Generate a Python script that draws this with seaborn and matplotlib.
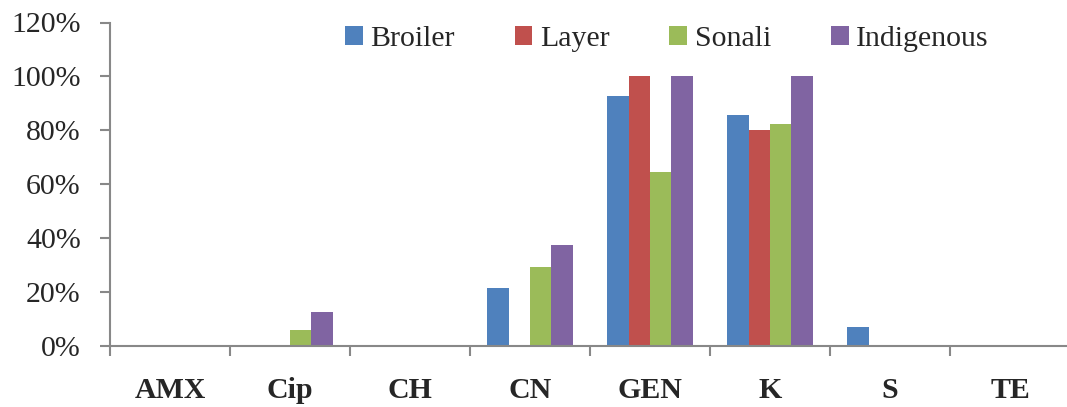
import matplotlib
matplotlib.use("Agg")
import matplotlib.pyplot as plt
import seaborn as sns
import pandas as pd
import numpy as np
from matplotlib.ticker import FixedLocator, FuncFormatter

categories = ["AMX", "Cip", "CH", "CN", "GEN", "K", "S", "TE"]
series_names = ["Broiler", "Layer", "Sonali", "Indigenous"]
broiler = [0, 0, 0, 21.4, 92.9, 85.7, 7.1, 0]
layer = [0, 0, 0, 0, 100, 80.0, 0, 0]
sonali = [0, 5.9, 0, 29.4, 64.7, 82.4, 0, 0]
indigenous = [0, 12.5, 0, 37.5, 100, 100, 0, 0]
colors = ["#4F81BD", "#C0504D", "#9BBB59", "#8064A2"]
yticks = [0, 20, 40, 60, 80, 100, 120]

rows = []
for name, vals in zip(series_names, [broiler, layer, sonali, indigenous]):
    for c, v in zip(categories, vals):
        rows.append({"Antibiotic": c, "Type": name, "Value": v})
df = pd.DataFrame(rows)

sns.set_style("white")
plt.rcParams["font.family"] = ["Liberation Serif", "DejaVu Serif"]

fig = plt.figure(figsize=(10.67, 4.07), dpi=100)
ax = fig.add_axes([110/1067, (407-346)/407, 960/1067, (346-22.5)/407])

sns.barplot(data=df, x="Antibiotic", y="Value", hue="Type", order=categories,
            hue_order=series_names, palette=colors, width=0.71, gap=0,
            saturation=1, linewidth=0, ax=ax)

ax.set_xlim(-0.5, len(categories) - 0.5)
ax.set_ylim(0, 120)
ax.set_yticks(yticks)
ax.yaxis.set_major_formatter(FuncFormatter(lambda v, p: f"{int(v)}%"))
ax.set_xlabel("")
ax.set_ylabel("")

ax.set_xticks(range(len(categories)))
ax.set_xticklabels(categories, fontsize=21.5, fontweight="bold")
ax.xaxis.set_minor_locator(FixedLocator(np.arange(-0.5, len(categories), 1.0)))
ax.tick_params(axis="x", which="both", bottom=True)
ax.tick_params(axis="x", which="major", length=0, pad=22)
ax.tick_params(axis="x", which="minor", length=7, width=1.5, color="#888888", direction="out")
ax.tick_params(axis="y", which="major", left=True, length=7, width=1.5, color="#888888",
               direction="out", labelsize=21.5, pad=14)

for s in ["top", "right"]:
    ax.spines[s].set_visible(False)
for s in ["left", "bottom"]:
    ax.spines[s].set_color("#888888")
    ax.spines[s].set_linewidth(1.5)

handles, labels = ax.get_legend_handles_labels()
ax.legend(handles, labels, loc="center", bbox_to_anchor=(0.58, 0.95), ncol=4,
          frameon=False, fontsize=21.5, handlelength=0.6, handleheight=0.6,
          handletextpad=0.25, columnspacing=2.0)

fig.savefig("out.png", dpi=100)
